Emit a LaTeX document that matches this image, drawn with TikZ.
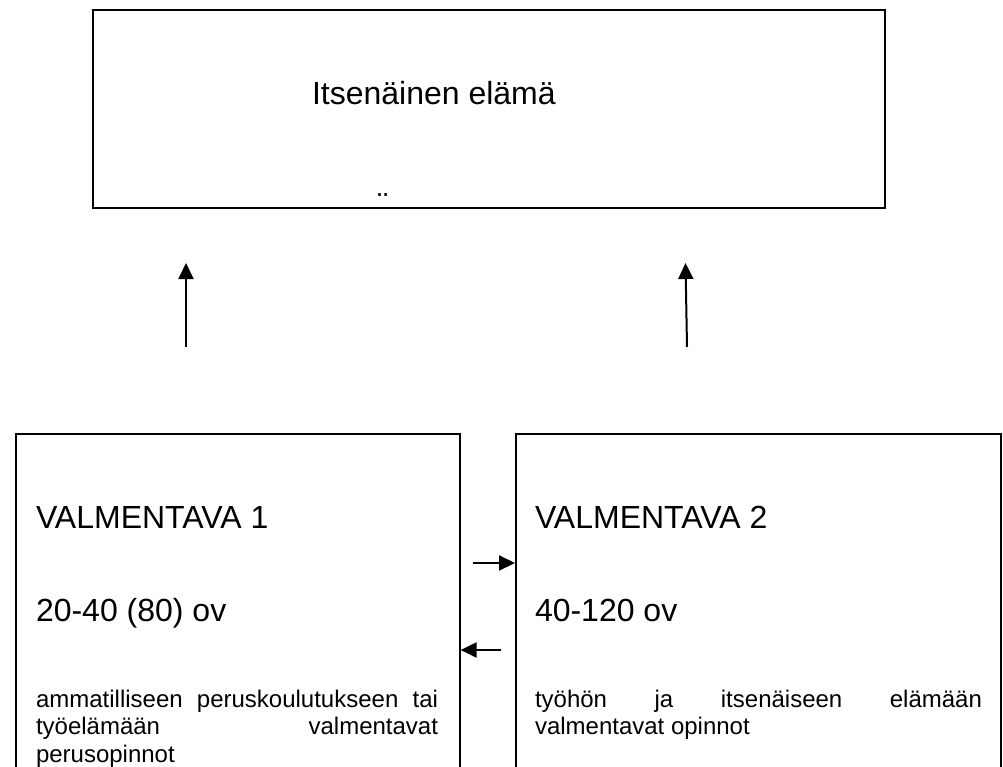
\documentclass[tikz,border=0pt]{standalone}
\usepackage{fontspec}
\setmainfont{Liberation Sans}
\usetikzlibrary{arrows.meta}
\newcommand\bigf{\fontsize{32}{36.8}\selectfont}
\newcommand\smallf{\fontsize{24}{27.6}\selectfont}
\tikzset{
  topbox/.style={draw, line width=2pt, inner sep=0pt, anchor=north west},
  lowbox/.style={draw, line width=1.6pt, inner sep=0pt, anchor=north west},
  txt/.style={inner sep=0pt, outer sep=0pt, anchor=base west},
  arr/.style={-{Triangle[length=16pt,width=15pt]}, line width=2pt},
}
\begin{document}
\begin{tikzpicture}[x=1pt,y=-1pt]
\useasboundingbox (0,0) rectangle (1003,767);
\clip (0,0) rectangle (1003,767);
% boxes
\node[topbox, minimum width=792pt, minimum height=197.5pt] (top) at (92,9.3) {};
\node[lowbox, minimum width=444pt, minimum height=370pt] (v1) at (15,433) {};
\node[lowbox, minimum width=485pt, minimum height=370pt] (v2) at (515,433) {};
% top text
\node[txt] (ttl) at (312,105) {\bigf Itsenäinen elämä};
\node[txt] (dia) at (377.5,215.6) {\bigf ¨};
% left box text
\node[txt] (v1a) at (36,528) {\bigf VALMENTAVA 1};
\node[txt] (v1b) at (36,621.7) {\bigf 20-40 (80) ov};
\node[txt] (v1c) at (36,707) {\smallf\makebox[402pt][s]{ammatilliseen peruskoulutukseen tai}};
\node[txt] (v1d) at (36,734.6) {\smallf\makebox[402pt][s]{työelämään valmentavat}};
\node[txt] (v1e) at (36,762.2) {\smallf perusopinnot};
% right box text
\node[txt] (v2a) at (535,528) {\bigf VALMENTAVA 2};
\node[txt] (v2b) at (535,621.7) {\bigf 40-120 ov};
\node[txt] (v2c) at (535,707) {\smallf\makebox[447pt][s]{työhön ja itsenäiseen elämään}};
\node[txt] (v2d) at (535,734.6) {\smallf valmentavat opinnot};
% vertical arrows
\coordinate (la0) at (186,347);
\coordinate (la1) at (186,263);
\coordinate (ra0) at (687,347);
\coordinate (ra1) at (685.5,263);
\draw[arr] (la0) -- (la1);
\draw[arr] (ra0) -- (ra1);
% horizontal arrows
\coordinate (h1) at (473,563);
\coordinate (h2) at (501,650);
\draw[arr] (h1) -- (h1 -| v2.west);
\draw[arr] (h2) -- (h2 -| v1.east);
\end{tikzpicture}
\end{document}
